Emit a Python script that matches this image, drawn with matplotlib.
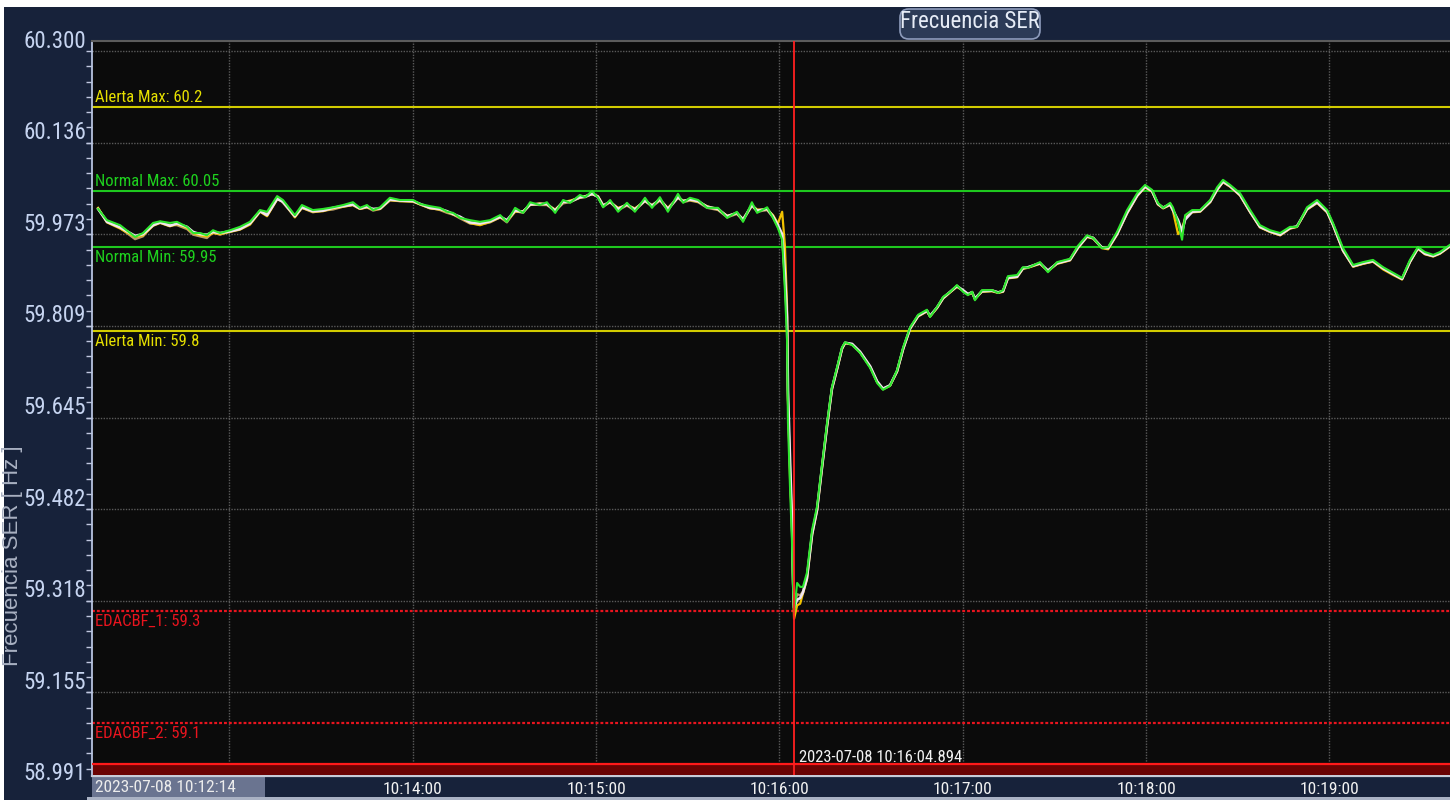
import numpy as np
import matplotlib
matplotlib.use("Agg")
import matplotlib.pyplot as plt
from matplotlib import font_manager as fm
from matplotlib.transforms import ScaledTranslation
from matplotlib.patches import Rectangle, FancyBboxPatch
from matplotlib.lines import Line2D

# ---------------- data ----------------
titulo = "Frecuencia SER"
y_titulo = "Frecuencia SER [ Hz ]"
inicio_label = "2023-07-08 10:12:14"
cursor_label = "2023-07-08 10:16:04.894"
cursor_t = 244.894          # seconds after 10:12:00
x_inicio, x_fin = 15.0, 459.5
y_min, y_max = 59.007, 60.318
limite_inferior = 59.027

# time of samples: seconds after 10:12:00
tiempo = [
    17.0, 19.9, 24.2, 29.1, 31.7, 35.0, 37.3, 40.5, 42.8, 46.1,
    48.1, 50.4, 52.6, 54.6, 56.9, 60.2, 63.4, 66.7, 70.0, 72.3,
    75.6, 77.5, 81.4, 83.7, 87.3, 90.6, 93.9, 97.2, 100.4, 102.7,
    105.0, 107.0, 109.3, 112.5, 115.8, 120.1, 122.4, 125.6, 128.9, 131.2,
    133.2, 135.5, 138.7, 142.0, 145.3, 148.6, 150.8, 153.5, 156.1, 158.4,
    161.6, 163.9, 166.6, 169.2, 171.5, 174.7, 176.4, 178.7, 180.6, 182.3,
    184.6, 187.2, 190.1, 192.7, 196.0, 198.3, 200.9, 203.5, 206.8, 208.5,
    210.7, 213.4, 216.3, 219.9, 222.9, 226.1, 228.1, 231.0, 232.7, 236.0,
    237.9, 239.5, 240.9, 241.8, 242.5, 242.8, 243.5, 244.1, 244.5, 244.8,
    245.8, 246.8, 247.7, 249.0, 250.7, 252.3, 254.0, 255.6, 257.2, 258.9,
    260.5, 261.5, 263.8, 266.4, 269.7, 272.0, 273.9, 276.2, 278.5, 280.5,
    282.8, 285.4, 288.3, 289.3, 291.6, 293.6, 295.9, 298.1, 300.1, 301.7,
    303.1, 304.0, 306.3, 309.6, 311.6, 313.2, 314.8, 317.8, 319.7, 321.4,
    325.3, 327.9, 330.9, 335.1, 337.7, 340.7, 342.7, 345.6, 347.6, 350.5,
    353.8, 357.1, 359.7, 362.0, 363.9, 365.6, 367.9, 368.8, 370.5, 371.8,
    372.8, 375.1, 377.7, 381.0, 383.3, 385.2, 387.5, 390.8, 394.1, 397.3,
    400.6, 403.9, 407.1, 409.4, 412.7, 416.0, 419.3, 421.2, 424.5, 427.8,
    431.0, 434.3, 437.6, 440.9, 443.8, 446.4, 449.0, 451.3, 454.0, 456.2,
    459.5,
]

# green trace (Hz)
f_verde = [
    60.018, 59.998, 59.989, 59.968, 59.975, 59.993, 59.996, 59.993, 59.995, 59.986,
    59.975, 59.975, 59.971, 59.980, 59.975, 59.980, 59.986, 59.995, 60.016, 60.013,
    60.041, 60.034, 60.007, 60.025, 60.016, 60.018, 60.021, 60.025, 60.030, 60.020,
    60.025, 60.016, 60.021, 60.038, 60.034, 60.034, 60.027, 60.023, 60.020, 60.013,
    60.011, 60.002, 59.998, 59.995, 59.998, 60.007, 59.995, 60.020, 60.011, 60.030,
    60.025, 60.030, 60.011, 60.034, 60.029, 60.043, 60.039, 60.050, 60.038, 60.021,
    60.034, 60.013, 60.029, 60.013, 60.038, 60.020, 60.039, 60.013, 60.045, 60.029,
    60.038, 60.034, 60.020, 60.020, 60.002, 60.013, 59.995, 60.030, 60.011, 60.021,
    60.002, 59.984, 59.963, 59.873, 59.784, 59.636, 59.516, 59.427, 59.338, 59.296,
    59.350, 59.343, 59.343, 59.368, 59.445, 59.486, 59.564, 59.636, 59.700, 59.736,
    59.771, 59.780, 59.775, 59.761, 59.734, 59.707, 59.695, 59.702, 59.730, 59.771,
    59.807, 59.829, 59.838, 59.825, 59.843, 59.861, 59.870, 59.882, 59.870, 59.864,
    59.870, 59.855, 59.873, 59.873, 59.868, 59.873, 59.898, 59.900, 59.914, 59.913,
    59.923, 59.905, 59.923, 59.929, 59.952, 59.971, 59.966, 59.948, 59.950, 59.977,
    60.016, 60.046, 60.061, 60.052, 60.029, 60.020, 60.029, 60.021, 59.993, 59.963,
    60.007, 60.016, 60.016, 60.034, 60.057, 60.070, 60.061, 60.046, 60.016, 59.989,
    59.980, 59.975, 59.986, 59.986, 60.021, 60.034, 60.016, 59.993, 59.948, 59.918,
    59.923, 59.927, 59.914, 59.904, 59.895, 59.927, 59.950, 59.941, 59.936, 59.941,
    59.954,
]

# other measurement traces, read as deviation from the green one (mHz)
d_blanco = [
    0, -3, -4, 2, -2, -4, -2, -5, -3, 0,
    2, -2, 1, -3, 0, -2, -4, -3, -2, -6,
    -5, -3, -2, -4, -2, -3, -1, -2, -4, -1,
    -3, 2, -2, -3, -1, -2, 0, -3, -2, 1,
    -2, 2, -4, -3, -2, -3, 3, -5, 2, -4,
    2, -3, 4, -3, 2, -4, 1, -5, 2, 3,
    -3, 5, -3, 4, -5, 4, -4, 5, -6, 3,
    -3, -2, 2, -2, 3, -2, 4, -5, 4, -3,
    3, 5, 10, 30, 40, 60, 50, 40, 10, 10,
    -30, -20, -10, -10, -8, -6, -5, -5, -3, -3,
    -2, -1, 2, 2, 3, 3, 2, 1, -2, -3,
    -2, -2, -2, 2, -1, -2, 0, -2, 3, 2,
    -1, 3, -2, -1, 1, -2, -3, -3, -2, 1,
    -2, 3, -2, -2, -3, -2, 0, 1, -2, -4,
    -5, -4, -3, -2, -2, 0, -3, -5, 5, 15,
    -8, -3, -2, -3, -4, -3, -2, -3, -3, -3,
    -2, -3, -2, 1, -3, -4, -3, -3, -4, -2,
    -2, -2, -2, -2, -2, -3, -2, -3, -2, -2,
    -2,
]
d_amarillo = [
    2, -4, -6, 0, -4, -5, -3, -6, -4, -2,
    0, -4, -2, -5, -2, -3, -5, -5, -3, -8,
    -6, -2, -4, -5, -3, -4, -2, -3, -5, -2,
    -4, 1, -3, -4, -2, -3, -1, -4, -3, 0,
    -3, 1, -5, -6, -3, -4, 2, -7, 3, -5,
    3, -4, 6, -4, 4, -5, 2, -6, 3, 4,
    -4, 7, -4, 6, -6, 5, -5, 7, -7, 4,
    -4, -3, 3, -3, 4, -3, 5, -6, 6, -4,
    5, 8, 50, 80, 60, 40, 20, 30, 0, -10,
    -40, -30, -12, -12, -9, -7, -6, -6, -4, -4,
    -3, -2, 1, 1, 2, 2, 1, 0, -3, -4,
    -3, -3, -3, 1, -2, -3, -1, -3, 2, 1,
    -2, 2, -3, -2, 0, -3, -4, -4, -3, 0,
    -3, 2, -3, -3, -4, -3, -1, 0, -4, -5,
    -6, -5, -4, -3, -3, -1, -4, -6, -20, 20,
    -5, -4, -3, -4, -5, -4, -3, -4, -4, -4,
    -3, -4, -3, 0, -4, -5, -4, -4, -5, -3,
    -3, -3, -4, -4, -3, -4, -3, -4, -3, -3,
    -3,
]
d_cafe = [
    0, -2, -5, -4, -6, -3, -1, -4, -6, -4,
    -3, -6, -5, -4, -3, -2, -3, -4, -1, -3,
    -2, -5, -3, -5, -4, -3, -4, -3, -5, -2,
    -4, -1, -3, -5, -2, -2, -1, -3, -4, -2,
    -3, -1, -6, -5, -4, -4, -1, -6, 0, -4,
    0, -5, 3, -6, 1, -5, 0, -5, 2, 1,
    -4, 3, -5, 2, -6, 2, -6, 3, -7, 1,
    -5, -4, 0, -4, 1, -4, 2, -6, 2, -5,
    1, 2, 5, 15, 25, 40, 35, 30, 5, 5,
    -20, -15, -8, -8, -6, -5, -4, -4, -2, -2,
    -2, -1, 1, 1, 2, 2, 2, 1, -1, -2,
    -1, -2, -1, 1, -1, -1, 0, -1, 2, 2,
    0, 2, -1, 0, 1, -1, -2, -2, -1, 1,
    -1, 2, -1, -1, -2, -1, 1, 1, -1, -3,
    -4, -3, -4, -3, -2, 1, -2, -4, 3, 10,
    -6, -2, -1, -2, -3, -4, -3, -4, -4, -3,
    -3, -4, -3, 0, -4, -5, -4, -3, -5, -3,
    -3, -3, -2, -2, -2, -3, -2, -3, -2, -2,
    -2,
]

umbral_textos = ["Alerta Max: 60.2", "Normal Max: 60.05", "Normal Min: 59.95",
                 "Alerta Min: 59.8", "EDACBF_1: 59.3", "EDACBF_2: 59.1"]
umbral_valores = [60.2, 60.05, 59.95, 59.8, 59.3, 59.1]

y_ticks = [60.300, 60.136, 59.973, 59.809, 59.645, 59.482, 59.318, 59.155, 58.991]
x_ticks = [60, 120, 180, 240, 300, 360, 420]
x_labels = ["", "10:14:00", "10:15:00", "10:16:00", "10:17:00", "10:18:00", "10:19:00"]

# ---------------- fonts ----------------
fonts = fm.fontManager.ttflist
names = {f.name for f in fonts}
NK = None
SCALE = 1.0
for cand in ["Liberation Sans Narrow", "Arial Narrow", "Roboto Condensed",
             "Noto Sans Condensed", "Open Sans Condensed", "DejaVu Sans Condensed"]:
    if cand in names:
        NK = {"fontfamily": cand}
        break
if NK is None:
    cond = [f for f in fonts if f.stretch in ("condensed", "semi-condensed",
                                               "extra-condensed", 375, 75, 87)]
    if cond:
        NK = {"fontfamily": cond[0].name, "fontstretch": cond[0].stretch}
        SCALE = 0.95
    else:
        NK = {"fontfamily": "Liberation Sans"}
        SCALE = 0.82
REG = "Liberation Sans" if "Liberation Sans" in names else "DejaVu Sans"
plt.rcParams["font.family"] = [NK["fontfamily"], "DejaVu Sans"]


def fs(x):
    return x * SCALE


NAVY = "#17223a"
umbral_colores = ["#d2cc00", "#1ec81e", "#1ec81e", "#d2cc00", "#e8141e", "#e8141e"]
umbral_ls = ["-", "-", "-", "-", (0, (1.3, 0.9)), (0, (1.3, 0.9))]
umbral_lw = [1.5, 1.5, 1.5, 1.5, 1.6, 1.6]
umbral_arriba = [True, True, False, False, False, False]
umbral_txtcol = ["#e6e000", "#1ed21e", "#1ed21e", "#e6e000", "#e8141e", "#e8141e"]

W, H = 1450, 800
fig = plt.figure(figsize=(W / 100, H / 100), dpi=100, facecolor="white")

# navy background (leaves thin white strip on top / left)
fig.patches.append(Rectangle((4 / W, 0), 1 - 4 / W, (H - 7) / H, transform=fig.transFigure,
                             facecolor=NAVY, edgecolor="none", zorder=-5))

ax = fig.add_axes([92 / W, 25 / H, 1358 / W, 734 / H])
ax.set_zorder(2)
ax.set_facecolor("#0b0b0b")

# grid (ticks first, limits afterwards so ticks do not widen the view)
ax.set_yticks(y_ticks)
ax.set_xticks(x_ticks)
ax.set_xticklabels(x_labels)
ax.yaxis.set_minor_locator(matplotlib.ticker.FixedLocator(
    np.arange(y_ticks[-1], y_ticks[0] + 0.001, (y_ticks[0] - y_ticks[-1]) / 48)))
ax.set_xlim(x_inicio, x_fin)
ax.set_ylim(y_min, y_max)
ax.grid(True, color="#5a5a5a", linestyle=(0, (1, 1)), linewidth=1.0)
ax.set_axisbelow(True)
ax.tick_params(axis="y", which="both", direction="out", length=4, width=1,
               color="#c0c8e0", labelleft=False)
ax.tick_params(axis="x", which="both", length=0, pad=5, labelsize=fs(12.5),
               labelcolor="#f2f2f2")
for lbl in ax.get_xticklabels():
    lbl.update(NK)

for s in ["right", "bottom"]:
    ax.spines[s].set_visible(False)
ax.spines["left"].set_color("#b8c4e0")
ax.spines["left"].set_linewidth(1.3)
ax.spines["top"].set_color("#5c5c5c")
ax.spines["top"].set_linewidth(1.5)

# y tick labels, drawn slightly above their grid line
off = ScaledTranslation(-6 / 100, 10 / 100, fig.dpi_scale_trans)
for v in y_ticks:
    ax.text(0, v, f"{v:.3f}", transform=ax.get_yaxis_transform() + off,
            ha="right", va="center", fontsize=fs(16.5), color="#c6d4f0",
            clip_on=False, **NK)

# threshold lines
for txt, v, c, ls, lw, up, tc in zip(umbral_textos, umbral_valores, umbral_colores,
                                      umbral_ls, umbral_lw, umbral_arriba, umbral_txtcol):
    ax.axhline(v, color=c, linestyle=ls, linewidth=lw, zorder=2)
    dy = 2 / 100 if up else -3 / 100
    ax.text(0.0025, v, txt, transform=ax.get_yaxis_transform()
            + ScaledTranslation(0, dy, fig.dpi_scale_trans),
            ha="left", va="bottom" if up else "top", fontsize=fs(12), color=tc,
            zorder=3, **NK)

# bottom red band
ax.axhspan(y_min, limite_inferior, color="#6a0303", zorder=2, linewidth=0)
ax.axhline(limite_inferior, color="#ff1a1a", linewidth=1.6, zorder=3)

# traces
t = np.array(tiempo)
verde = np.array(f_verde)
cafe = verde + np.array(d_cafe) / 1000.0
amarillo = verde + np.array(d_amarillo) / 1000.0
blanco = verde + np.array(d_blanco) / 1000.0
ax.plot(t, cafe, color="#b49a6a", linewidth=1.6, zorder=4)
ax.plot(t, amarillo, color="#f2c200", linewidth=1.6, zorder=5)
ax.plot(t, blanco, color="#f0e4f0", linewidth=1.9, zorder=6)
ax.plot(t, verde, color="#2ee62e", linewidth=1.5, zorder=7)

# cursor
ax.axvline(cursor_t, color="#ff2020", linewidth=1.3, zorder=8)
ax.text(cursor_t, limite_inferior, cursor_label,
        transform=ax.transData + ScaledTranslation(5 / 100, -1 / 100, fig.dpi_scale_trans),
        ha="left", va="bottom", fontsize=fs(12), color="#f2f2f2", zorder=9, **NK)

# y axis title
fig.text(13 / W, 1 - 556 / H, y_titulo, rotation=90, ha="center", va="center",
         fontsize=16, color="#a9b1c2", fontfamily=REG)

# x axis band decorations
fig.add_artist(Line2D([92 / W, 1], [(H - 775.5) / H] * 2, color="#c8ccd8", linewidth=1.6))
fig.patches.append(Rectangle((92 / W, 3 / H), 173 / W, 21.5 / H, transform=fig.transFigure,
                             facecolor="#6a7490", edgecolor="none", zorder=1))
fig.text(95 / W, 1 - 787 / H, inicio_label, ha="left", va="center", fontsize=fs(12.5),
         color="#ececec", **NK)
fig.patches.append(Rectangle((87 / W, 0), 1 - 87 / W, 3 / H, transform=fig.transFigure,
                             facecolor="#aab2c4", edgecolor="none", zorder=1))

# title tab
fig.patches.append(FancyBboxPatch((900 / W, (H - 39) / H), 140 / W, 30 / H,
                                  boxstyle="round,pad=0,rounding_size=0.006",
                                  transform=fig.transFigure, facecolor="#2c3b57",
                                  edgecolor="#8e9cbc", linewidth=1.2, zorder=2,
                                  mutation_aspect=W / H))
fig.text(970 / W, 1 - 22 / H, titulo, ha="center", va="center", fontsize=fs(16.5),
         color="#e6ecf6", zorder=3, **NK)

fig.savefig("out.png", dpi=100, facecolor=fig.get_facecolor())
